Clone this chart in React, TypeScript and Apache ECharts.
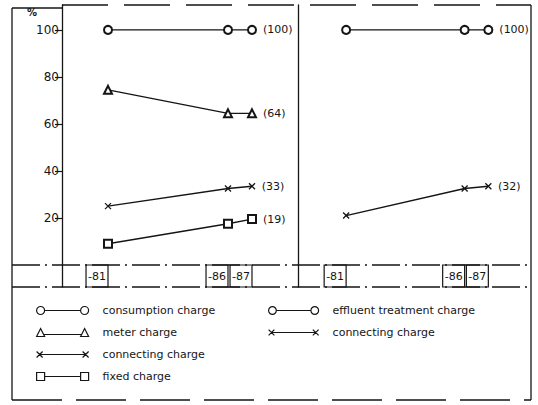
import React, { useEffect, useRef } from "react";
import * as echarts from "echarts";

// ---- data ----
const years = [81, 86, 87];
const yTicks = [20, 40, 60, 80, 100];
const consumption = [100, 100, 100];
const meter = [74.5, 64.5, 64.5];
const connectingLeft = [25, 32.5, 33.5];
const fixedCharge = [9, 17.5, 19.5];
const effluent = [100, 100, 100];
const connectingRight = [21, 32.5, 33.5];
const endLabelsLeft = ["(100)", "(64)", "(33)", "(19)"];
const endLabelsRight = ["(100)", "(32)"];
const legendLeftNames = ["consumption charge", "meter charge", "connecting charge", "fixed charge"];
const legendRightNames = ["effluent treatment charge", "connecting charge"];

const FONT = "'DejaVu Sans', 'Liberation Sans', sans-serif";
const INK = "#151515";

const CROSS = "path://M0,0L6,6M0,6L6,0";
const ICON_CIRCLE = "path://M0,4A4,4 0 1,1 8,4A4,4 0 1,1 0,4Z M8,4L44,4 M44,4A4,4 0 1,1 52,4A4,4 0 1,1 44,4Z";
const ICON_TRI = "path://M0,8L4,0L8,8Z M7,6L45,6 M44,8L48,0L52,8Z";
const ICON_CROSS = "path://M0,1L6,7M0,7L6,1 M3,4L49,4 M46,1L52,7M46,7L52,1";
const ICON_SQUARE = "path://M0,0L8,0L8,8L0,8Z M8,4L44,4 M44,0L52,0L52,8L44,8Z";

function mk(name: string, values: number[], symbol: string, size: number, idx: number, endLabel: string) {
  return {
    type: "line",
    name,
    xAxisIndex: idx,
    yAxisIndex: idx,
    data: years.map((y, i) => [y, values[i]]),
    symbol,
    symbolSize: size,
    showSymbol: true,
    lineStyle: { color: INK, width: 1.4 },
    itemStyle: { color: INK, borderColor: INK, borderWidth: 1.3 },
    label: {
      show: true,
      position: "right",
      distance: 6,
      formatter: (p: any) => (p.dataIndex === years.length - 1 ? endLabel : ""),
      color: INK,
      fontFamily: FONT,
      fontSize: 11,
    },
    emphasis: { disabled: true },
    z: 3,
  };
}

function xAxisFor(idx: number, min: number, max: number) {
  return {
    type: "value",
    gridIndex: idx,
    min,
    max,
    axisLine: { show: false, onZero: false },
    axisTick: { show: false },
    splitLine: { show: false },
    axisLabel: {
      customValues: years,
      hideOverlap: false,
      inside: true,
      margin: 0,
      formatter: (v: number) => "-" + v,
      align: "right",
      verticalAlign: "bottom",
      borderColor: INK,
      borderWidth: 1.2,
      padding: [5, 2, 5, 2],
      lineHeight: 12,
      fontSize: 11,
      fontFamily: FONT,
      color: INK,
    },
  };
}

export default function App() {
  const ref = useRef<HTMLDivElement>(null);
  useEffect(() => {
    if (!ref.current) return;
    const chart = echarts.init(ref.current, undefined, { renderer: "svg" });
    const lineStyle = { stroke: INK, lineWidth: 1.3 };
    const legendCommon = {
      orient: "vertical",
      top: 300,
      itemHeight: 8,
      itemGap: 11,
      selectedMode: false,
      symbolKeepAspect: true,
      itemStyle: { color: "rgba(0,0,0,0)", borderColor: INK, borderWidth: 1.2 },
      textStyle: { fontFamily: FONT, fontSize: 11, color: INK, padding: [0, 0, 0, 9] },
    };
    const leftIcons = [ICON_CIRCLE, ICON_TRI, ICON_CROSS, ICON_SQUARE];
    const rightIcons = [ICON_CIRCLE, ICON_CROSS];
    chart.setOption({
      animation: false,
      backgroundColor: "#ffffff",
      grid: [
        { left: 62, width: 236, top: 5, bottom: 118 },
        { left: 298, width: 233, top: 5, bottom: 118 },
      ],
      xAxis: [xAxisFor(0, 79.083, 88.917), xAxisFor(1, 78.97, 88.8)],
      yAxis: [
        {
          type: "value",
          gridIndex: 0,
          min: -9.4,
          max: 110.6,
          axisLine: { show: true, onZero: false, lineStyle: { color: INK, width: 1.3 } },
          axisTick: { show: true, customValues: yTicks, length: 7, lineStyle: { color: INK, width: 1.2 } },
          axisLabel: { customValues: yTicks, margin: 3, fontSize: 12, fontFamily: FONT, color: INK },
          splitLine: { show: false },
        },
        {
          type: "value",
          gridIndex: 1,
          min: -9.4,
          max: 110.6,
          axisLine: { show: true, onZero: false, lineStyle: { color: INK, width: 1.3 } },
          axisTick: { show: false },
          axisLabel: { show: false },
          splitLine: { show: false },
        },
      ],
      legend: [
        {
          ...legendCommon,
          left: 31,
          itemWidth: 52,
          data: legendLeftNames.map((n, i) => ({ name: n, icon: leftIcons[i] })),
        },
        {
          ...legendCommon,
          left: 263,
          itemWidth: 50,
          data: legendRightNames.map((n, i) => ({ name: n, icon: rightIcons[i] })),
        },
      ],
      series: [
        mk("consumption charge", consumption, "emptyCircle", 8, 0, endLabelsLeft[0]),
        mk("meter charge", meter, "emptyTriangle", 8, 0, endLabelsLeft[1]),
        mk("connecting charge", connectingLeft, CROSS, 6, 0, endLabelsLeft[2]),
        mk("fixed charge", fixedCharge, "emptyRect", 8, 0, endLabelsLeft[3]),
        mk("effluent treatment charge", effluent, "emptyCircle", 8, 1, endLabelsRight[0]),
        mk("connecting charge", connectingRight, CROSS, 6, 1, endLabelsRight[1]),
      ],
      graphic: [
        { type: "text", left: 27, top: 7, style: { text: "%", font: `bold 10px ${FONT}`, fill: INK } },
        { type: "line", shape: { x1: 12, y1: 8, x2: 12, y2: 400 }, style: lineStyle },
        { type: "line", shape: { x1: 12, y1: 8, x2: 62, y2: 8 }, style: lineStyle },
        { type: "line", shape: { x1: 62, y1: 5, x2: 531, y2: 5 }, style: { ...lineStyle, lineDash: [46, 16] } },
        { type: "line", shape: { x1: 531, y1: 5, x2: 531, y2: 400 }, style: lineStyle },
        { type: "line", shape: { x1: 12, y1: 400, x2: 531, y2: 400 }, style: { ...lineStyle, lineDash: [50, 14] } },
        { type: "line", shape: { x1: 12, y1: 265, x2: 531, y2: 265 }, style: { ...lineStyle, lineDash: [28, 5, 2, 5] } },
        { type: "line", shape: { x1: 12, y1: 287, x2: 531, y2: 287 }, style: { ...lineStyle, lineDash: [28, 5, 2, 5] } },
      ],
    });
    return () => chart.dispose();
  }, []);
  return (
    <div
      ref={ref}
      style={{ position: "fixed", left: 0, top: 0, width: 538, height: 405, background: "#fff" }}
    />
  );
}
